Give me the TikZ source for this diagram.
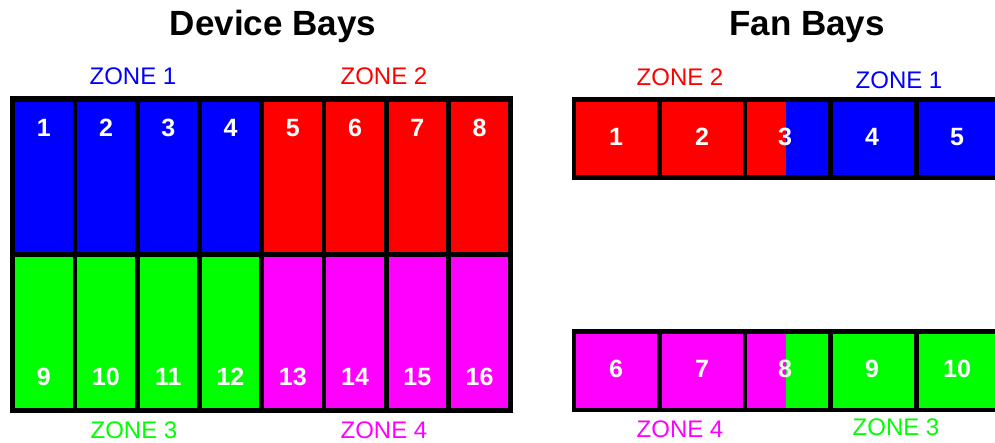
\documentclass[tikz,border=0pt]{standalone}
\usepackage{fontspec}
\setmainfont{Liberation Sans}
\definecolor{zoneblue}{RGB}{0,0,255}
\definecolor{zonered}{RGB}{255,0,0}
\definecolor{zonegreen}{RGB}{0,255,0}
\definecolor{zonemag}{RGB}{255,0,255}
\begin{document}
\begin{tikzpicture}[x=1pt, y=-1pt,
  title/.style={anchor=base, font=\fontsize{35}{40}\selectfont\bfseries},
  zone/.style={anchor=base, inner sep=0pt, font=\fontsize{24}{28}\selectfont},
  num/.style={text=white, inner sep=0pt, font=\fontsize{25}{30}\selectfont\bfseries}]
\useasboundingbox (0,0) rectangle (995,442);
\clip (0,0) rectangle (995,442);
\def\dw{62.25}
\def\fw{85.7}
% device bays
\node[title] (devtitle) at (273,35) {Device Bays};
\fill (10,96) rectangle (513,413);
\foreach \i in {0,...,3} {
  \fill[zoneblue]  ({15+\i*\dw},102) rectangle +(57.5,150);
  \fill[zonegreen] ({15+\i*\dw},257) rectangle +(57.5,151);
  \fill[zonered]   ({15+(\i+4)*\dw},102) rectangle +(57.5,150);
  \fill[zonemag]   ({15+(\i+4)*\dw},257) rectangle +(57.5,151);
}
\foreach \i in {1,...,8} {
  \pgfmathtruncatemacro\j{\i+8}
  \node[num] (d\i) at ({43.75+(\i-1)*\dw},128) {\i};
  \node[num] (d\j) at ({43.75+(\i-1)*\dw},377) {\j};
}
\node[zone, text=zoneblue]  (dz1) at (133,84)  {ZONE 1};
\node[zone, text=zonered]   (dz2) at (384,84)  {ZONE 2};
\node[zone, text=zonegreen] (dz3) at (134,438) {ZONE 3};
\node[zone, text=zonemag]   (dz4) at (384,438) {ZONE 4};
% fan bays
\node[title] (fantitle) at (807,35) {Fan Bays};
\fill (572,97)  rectangle (1010,180);
\fill (572,329) rectangle (1010,412);
\foreach \i in {0,1} {
  \fill[zonered] ({576+\i*\fw},102) rectangle +(81,73);
  \fill[zonemag] ({576+\i*\fw},334) rectangle +(81,74);
}
\fill[zonered]   ({576+2*\fw},102) rectangle (786,175);
\fill[zoneblue]  (786,102) rectangle ({657+2*\fw},175);
\fill[zonemag]   ({576+2*\fw},334) rectangle (786,408);
\fill[zonegreen] (786,334) rectangle ({657+2*\fw},408);
\foreach \i in {3,4} {
  \fill[zoneblue]  ({576+\i*\fw},102) rectangle +(81,73);
  \fill[zonegreen] ({576+\i*\fw},334) rectangle +(81,74);
}
\foreach \x [count=\i] in {616,702,785,872,957} {
  \pgfmathtruncatemacro\j{\i+5}
  \node[num] (f\i) at (\x,137) {\i};
  \node[num] (f\j) at (\x,369) {\j};
}
\node[zone, text=zonered]   (fz2) at (680,85)  {ZONE 2};
\node[zone, text=zoneblue]  (fz1) at (899,88)  {ZONE 1};
\node[zone, text=zonemag]   (fz4) at (680,437) {ZONE 4};
\node[zone, text=zonegreen] (fz3) at (896,435) {ZONE 3};
\end{tikzpicture}
\end{document}
